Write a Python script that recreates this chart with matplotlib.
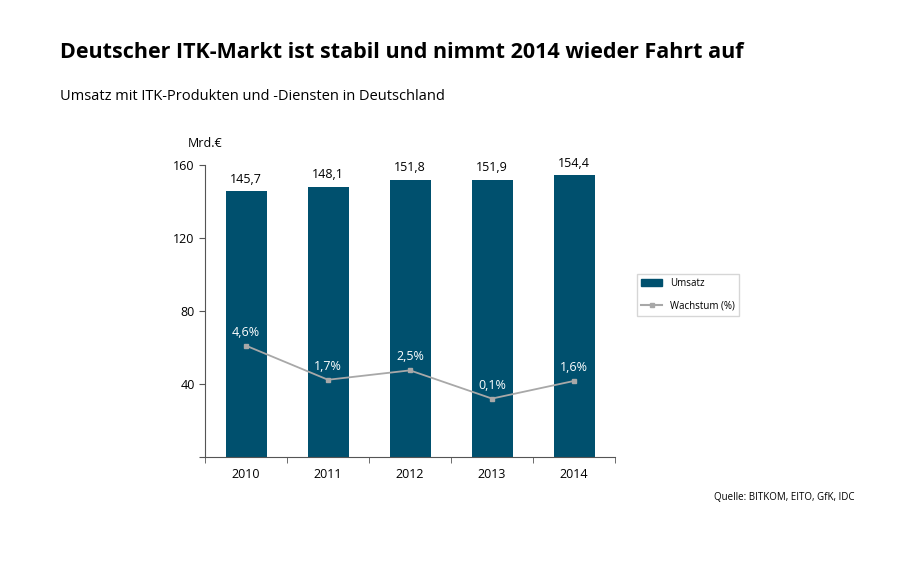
import matplotlib
matplotlib.use("Agg")
import matplotlib.pyplot as plt
from matplotlib.lines import Line2D
from matplotlib.patches import Patch

years = ["2010", "2011", "2012", "2013", "2014"]
umsatz = [145.7, 148.1, 151.8, 151.9, 154.4]
wachstum = [4.6, 1.7, 2.5, 0.1, 1.6]
umsatz_labels = ["145,7", "148,1", "151,8", "151,9", "154,4"]
wachstum_labels = ["4,6%", "1,7%", "2,5%", "0,1%", "1,6%"]

plt.rcParams['font.family'] = ['Open Sans', 'DejaVu Sans']
fig = plt.figure(figsize=(9, 5.63), dpi=100)
ax = fig.add_axes([205/900, 1-457/563, 410/900, 292/563])
x = range(len(years))
bar_c = "#00506e"
ax.bar(x, umsatz, width=0.5, color=bar_c, zorder=2)
for i, v in enumerate(umsatz):
    ax.text(i, v + 3, umsatz_labels[i], ha="center", va="bottom", fontsize=9)
ax.set_ylim(0, 160)
ax.set_xlim(-0.5, 4.5)
ax.set_yticks([0, 40, 80, 120, 160])
ax.set_yticklabels(["", "40", "80", "120", "160"], fontsize=9)
ax.set_xticks(list(x))
ax.set_xticklabels(years, fontsize=9)
for s in ["top", "right"]:
    ax.spines[s].set_visible(False)
for s in ["left", "bottom"]:
    ax.spines[s].set_color("#555555")
ax.tick_params(axis="x", length=0, pad=8)
ax.tick_params(axis="y", length=4, color="#555555")
ax.set_xticks([i + 0.5 for i in range(-1, 5)], minor=True)
ax.tick_params(axis="x", which="minor", length=4, color="#555555")

ax2 = ax.twinx()
ax2.set_ylim(-4.87, 19.97)
ax2.axis("off")
ax2.plot(list(x), wachstum, color="#a8a8a8", marker="s", markersize=3.5, lw=1.3, zorder=3)
for i, v in enumerate(wachstum):
    ax2.text(i, v + 0.6, wachstum_labels[i], ha="center", va="bottom", fontsize=9, color="white")

fig.text(205/900, 1-147/563, "Mrd.€", ha="center", fontsize=9)
fig.text(60/900, 1-52/563, "Deutscher ITK-Markt ist stabil und nimmt 2014 wieder Fahrt auf",
         fontsize=15.5, fontweight="bold", va="center")
fig.text(60/900, 1-97/563, "Umsatz mit ITK-Produkten und -Diensten in Deutschland", fontsize=10.5, va="center")
fig.text(855/900, 1-497/563, "Quelle: BITKOM, EITO, GfK, IDC", fontsize=7, ha="right", va="center")

handles = [Patch(color=bar_c, label="Umsatz"),
           Line2D([], [], color="#a8a8a8", marker="s", markersize=3, label="Wachstum (%)")]
leg = fig.legend(handles=handles, loc="center", bbox_to_anchor=(688/900, 1-295/563),
                 fontsize=7, frameon=True, fancybox=False, labelspacing=1.2, handlelength=2.2)
leg.get_frame().set_edgecolor("#cccccc")
fig.savefig("out.png")
